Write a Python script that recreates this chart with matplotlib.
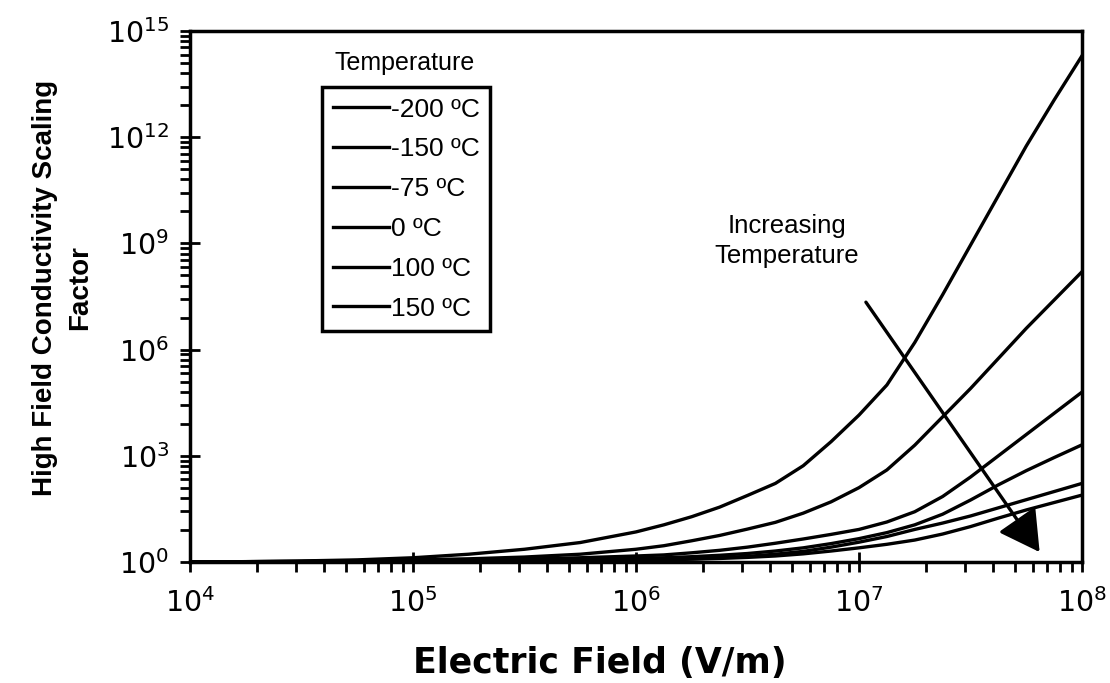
import numpy as np
import matplotlib
matplotlib.use('Agg')
import matplotlib.pyplot as plt
from matplotlib.ticker import FixedLocator, FuncFormatter, NullFormatter

plt.rcParams['font.family'] = ['Liberation Sans', 'DejaVu Sans']
plt.rcParams['mathtext.fontset'] = 'dejavusans'

# log10 of electric field (V/m)
log_field = [4.0, 4.25, 4.5, 4.75, 5.0, 5.25, 5.5, 5.75,
             6.0, 6.125, 6.25, 6.375, 6.5, 6.625, 6.75, 6.875,
             7.0, 7.125, 7.25, 7.375, 7.5, 7.625, 7.75, 7.875, 8.0]

temps = ['-200 ºC', '-150 ºC', '-75 ºC', '0 ºC', '100 ºC', '150 ºC']

# log10 of the high field conductivity scaling factor
log_factor_m200 = [0, 0.01, 0.03, 0.06, 0.12, 0.22, 0.36, 0.55,
                   0.85, 1.05, 1.28, 1.55, 1.88, 2.22, 2.72, 3.4,
                   4.15, 5.0, 6.2, 7.55, 8.95, 10.35, 11.75, 13.05, 14.3]
log_factor_m150 = [0, 0.01, 0.02, 0.04, 0.06, 0.09, 0.14, 0.22,
                   0.36, 0.46, 0.6, 0.75, 0.93, 1.12, 1.38, 1.7,
                   2.1, 2.6, 3.3, 4.1, 4.9, 5.75, 6.6, 7.4, 8.2]
log_factor_m75 = [0, 0, 0.01, 0.02, 0.04, 0.06, 0.08, 0.12,
                  0.17, 0.2, 0.26, 0.33, 0.42, 0.53, 0.65, 0.78,
                  0.92, 1.13, 1.42, 1.85, 2.4, 3.0, 3.6, 4.2, 4.8]
log_factor_0 = [0, 0, 0.01, 0.02, 0.03, 0.04, 0.05, 0.07,
                0.1, 0.12, 0.15, 0.19, 0.24, 0.31, 0.4, 0.52,
                0.66, 0.83, 1.05, 1.35, 1.75, 2.18, 2.58, 2.95, 3.31]
log_factor_100 = [0, 0, 0, 0.01, 0.02, 0.03, 0.04, 0.05,
                  0.06, 0.07, 0.09, 0.12, 0.16, 0.22, 0.3, 0.42,
                  0.56, 0.72, 0.92, 1.1, 1.3, 1.53, 1.76, 1.99, 2.22]
log_factor_150 = [0, 0, 0, 0.01, 0.02, 0.02, 0.03, 0.04,
                  0.05, 0.06, 0.08, 0.1, 0.13, 0.17, 0.23, 0.31,
                  0.4, 0.5, 0.62, 0.79, 1.0, 1.24, 1.47, 1.68, 1.89]

series = [log_factor_m200, log_factor_m150, log_factor_m75,
          log_factor_0, log_factor_100, log_factor_150]

W, H = 1110, 683
fig = plt.figure(figsize=(W / 100, H / 100), dpi=100)
ax = fig.add_axes([190 / W, 121 / H, 892 / W, 531 / H])

field = 10 ** np.array(log_field)
for lbl, vals in zip(temps, series):
    ax.plot(field, 10 ** np.array(vals), color='black', lw=2.4, label=lbl)

ax.set_xscale('log')
ax.set_yscale('log')
ax.set_xlim(1e4, 1e8)
ax.set_ylim(1, 1e15)

# ticks: x decades with 2..9 minors, y every 3 decades with k^3 minors
ax.xaxis.set_major_locator(FixedLocator([10.0 ** n for n in range(4, 9)]))
ax.xaxis.set_minor_locator(FixedLocator([k * 10.0 ** n for n in range(4, 8) for k in range(2, 10)]))
ax.yaxis.set_major_locator(FixedLocator([10.0 ** n for n in range(0, 16, 3)]))
ax.yaxis.set_minor_locator(FixedLocator([k ** 3 * 10.0 ** (3 * n) for n in range(5) for k in range(2, 10)]))
fmt = FuncFormatter(lambda v, p: r'$10^{%d}$' % round(np.log10(v)))
ax.xaxis.set_major_formatter(fmt)
ax.yaxis.set_major_formatter(fmt)
ax.xaxis.set_minor_formatter(NullFormatter())
ax.yaxis.set_minor_formatter(NullFormatter())
ax.tick_params(which='major', direction='inout', length=14, width=2, labelsize=20.5, color='black')
ax.tick_params(which='minor', direction='out', length=7, width=2, color='black')
ax.tick_params(axis='x', which='major', pad=12)
ax.tick_params(axis='y', which='major', pad=8)

for sp in ax.spines.values():
    sp.set_linewidth(2.5)
    sp.set_color('black')

leg = ax.legend(loc='upper left', bbox_to_anchor=(322 / W, 1 - 87 / H),
                bbox_transform=fig.transFigure, borderaxespad=0,
                fancybox=False, edgecolor='black', framealpha=1,
                handlelength=2.15, handletextpad=0.05, borderpad=0.4,
                labelspacing=0.6, fontsize=19)
leg.get_frame().set_linewidth(2.5)
fig.text(405 / W, 1 - 63 / H, 'Temperature', ha='center', va='center', fontsize=18)

# arrow and its note
ax.annotate('', xy=(10 ** 7.81, 10 ** 0.28), xytext=(10 ** 7.031, 10 ** 7.34),
            arrowprops=dict(arrowstyle='-|>,head_length=1.25,head_width=0.7',
                            mutation_scale=20, lw=2.4, color='black',
                            shrinkA=0, shrinkB=0))
fig.text(787 / W, 1 - 241 / H, 'Increasing\nTemperature', ha='center', va='center',
         fontsize=18.5, linespacing=1.3)

fig.text(600 / W, 1 - 663 / H, 'Electric Field (V/m)', ha='center', va='center',
         fontsize=25, fontweight='bold', family='DejaVu Sans')
fig.text(63 / W, 1 - 288 / H, 'High Field Conductivity Scaling\nFactor', rotation=90,
         ha='center', va='center', multialignment='center', linespacing=1.45,
         fontsize=20, fontweight='bold')

fig.savefig('out.png', dpi=100)
